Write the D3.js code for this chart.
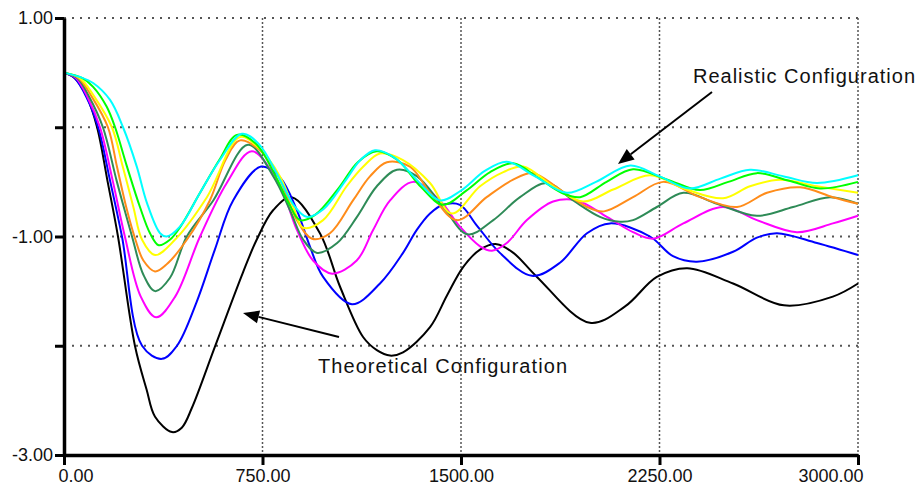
<!DOCTYPE html>
<html>
<head>
<meta charset="utf-8">
<script src="https://cdn.jsdelivr.net/npm/d3@7"></script>
<style>
  body { margin: 0; background: #fff; }
  svg { display: block; }
</style>
</head>
<body>
<div id="chart"></div>
<script>
var width = 920
var height = 488
var margin = {top: 18, right: 62, bottom: 33, left: 64}

// axis ticks
var xTicks = [0, 750, 1500, 2250, 3000]
var yTicks = [1, 0, -1, -2, -3]
var yLabelled = [1, -1, -3]

// curves, [x, y]
var black = [[0,0.5],[40,0.45],[86,0.28],[125,0],[165,-0.5],[204,-1.0],[268,-2.0],[312,-2.4],[344,-2.65],[408,-2.79],[445,-2.75],[483,-2.57],[570,-2.01],[676,-1.33],[728,-1.03],[790,-0.76],[860,-0.64],[967,-0.97],[1043,-1.46],[1130,-1.92],[1182,-2.04],[1232,-2.09],[1281,-2.06],[1383,-1.83],[1447,-1.54],[1508,-1.28],[1572,-1.12],[1635,-1.07],[1698,-1.15],[1787,-1.37],[1987,-1.79],[2120,-1.64],[2240,-1.37],[2355,-1.29],[2528,-1.43],[2720,-1.63],[2905,-1.55],[3000,-1.43]]
var blue = [[0,0.5],[40,0.45],[86,0.27],[129,0],[175,-0.5],[219,-1.0],[295,-2.0],[370,-2.12],[427,-2.0],[501,-1.6],[570,-1.12],[639,-0.67],[745,-0.36],[816,-0.46],[880,-0.76],[929,-1.09],[979,-1.37],[1088,-1.62],[1194,-1.43],[1281,-1.15],[1333,-0.94],[1383,-0.79],[1432,-0.71],[1496,-0.71],[1560,-0.9],[1647,-1.15],[1768,-1.36],[1874,-1.24],[1976,-0.97],[2063,-0.88],[2214,-1.0],[2301,-1.18],[2391,-1.23],[2528,-1.14],[2618,-1.01],[2694,-0.97],[2845,-1.06],[3000,-1.17]]
var magenta = [[0,0.5],[45,0.45],[90,0.27],[136,0],[185,-0.5],[230,-1.0],[290,-1.55],[348,-1.74],[420,-1.55],[514,-1.0],[615,-0.51],[710,-0.22],[816,-0.54],[880,-0.94],[941,-1.22],[1013,-1.34],[1106,-1.22],[1168,-0.94],[1232,-0.67],[1320,-0.5],[1420,-0.67],[1496,-0.91],[1572,-1.09],[1617,-1.13],[1673,-1.06],[1749,-0.85],[1848,-0.68],[1938,-0.67],[2051,-0.82],[2150,-0.96],[2226,-1.02],[2340,-0.88],[2490,-0.73],[2618,-0.85],[2769,-0.96],[2905,-0.88],[3000,-0.81]]
var seaGreen = [[0,0.5],[50,0.45],[95,0.28],[147,0],[200,-0.5],[257,-1.0],[300,-1.35],[344,-1.5],[400,-1.38],[464,-1.0],[564,-0.67],[695,-0.16],[791,-0.45],[854,-0.76],[904,-1.03],[956,-1.15],[1032,-1.06],[1107,-0.82],[1182,-0.54],[1258,-0.39],[1334,-0.45],[1433,-0.73],[1525,-0.98],[1622,-0.85],[1723,-0.64],[1825,-0.51],[1924,-0.67],[2025,-0.82],[2100,-0.865],[2150,-0.85],[2240,-0.73],[2340,-0.6],[2467,-0.7],[2618,-0.81],[2755,-0.73],[2894,-0.64],[3000,-0.7]]
var orange = [[0,0.5],[55,0.45],[105,0.28],[166,0],[200,-0.36],[235,-0.73],[270,-1.03],[300,-1.22],[344,-1.32],[390,-1.25],[464,-1.03],[551,-0.67],[610,-0.3],[665,-0.12],[753,-0.24],[816,-0.48],[880,-0.85],[937,-1.02],[1005,-0.97],[1092,-0.67],[1156,-0.45],[1220,-0.32],[1307,-0.36],[1383,-0.6],[1485,-0.85],[1597,-0.64],[1697,-0.48],[1772,-0.42],[1874,-0.57],[1976,-0.73],[2040,-0.77],[2150,-0.64],[2264,-0.5],[2403,-0.64],[2543,-0.73],[2656,-0.6],[2781,-0.55],[2905,-0.64],[3000,-0.7]]
var yellow = [[0,0.5],[60,0.45],[112,0.29],[181,0],[222,-0.36],[262,-0.73],[295,-1.03],[344,-1.17],[419,-1.03],[540,-0.64],[665,-0.09],[740,-0.2],[816,-0.45],[866,-0.73],[904,-0.92],[979,-0.85],[1068,-0.54],[1131,-0.36],[1194,-0.24],[1281,-0.3],[1383,-0.51],[1465,-0.79],[1572,-0.54],[1660,-0.41],[1735,-0.36],[1848,-0.54],[1961,-0.68],[2075,-0.57],[2214,-0.44],[2352,-0.57],[2490,-0.65],[2592,-0.54],[2705,-0.48],[2845,-0.54],[3000,-0.6]]
var lime = [[0,0.5],[70,0.45],[110,0.37],[161,0.19],[193,0],[238,-0.36],[287,-0.73],[325,-0.97],[358,-1.08],[400,-1.03],[440,-0.91],[514,-0.6],[589,-0.29],[653,-0.07],[725,-0.15],[800,-0.45],[850,-0.7],[892,-0.85],[950,-0.8],[1040,-0.55],[1110,-0.32],[1182,-0.22],[1260,-0.3],[1350,-0.55],[1432,-0.71],[1520,-0.58],[1610,-0.41],[1697,-0.33],[1790,-0.46],[1880,-0.6],[1950,-0.64],[2050,-0.5],[2150,-0.385],[2280,-0.48],[2403,-0.575],[2510,-0.5],[2618,-0.42],[2740,-0.49],[2856,-0.56],[3000,-0.5]]
var cyan = [[0,0.5],[60,0.46],[110,0.405],[174,0.25],[223,0],[275,-0.36],[313,-0.69],[363,-0.97],[388,-1.0],[438,-0.91],[514,-0.6],[589,-0.3],[672,-0.06],[735,-0.15],[810,-0.45],[870,-0.72],[917,-0.82],[980,-0.75],[1060,-0.5],[1120,-0.3],[1175,-0.21],[1250,-0.28],[1340,-0.5],[1420,-0.67],[1500,-0.58],[1590,-0.4],[1673,-0.315],[1780,-0.45],[1900,-0.6],[2010,-0.5],[2140,-0.35],[2250,-0.45],[2365,-0.56],[2480,-0.47],[2592,-0.39],[2720,-0.45],[2845,-0.51],[3000,-0.44]]

var series = [
  {name: "black", color: "#000000", data: black},
  {name: "blue", color: "#0000ff", data: blue},
  {name: "magenta", color: "#ff00ff", data: magenta},
  {name: "seaGreen", color: "#2e8b57", data: seaGreen},
  {name: "orange", color: "#ff8c1a", data: orange},
  {name: "yellow", color: "#ffff00", data: yellow},
  {name: "lime", color: "#00ff00", data: lime},
  {name: "cyan", color: "#00ffff", data: cyan}
]

var svg = d3.select("#chart").append("svg")
  .attr("width", width)
  .attr("height", height)

var x = d3.scaleLinear()
  .domain([0, 3000])
  .range([margin.left, width - margin.right])

var y = d3.scaleLinear()
  .domain([-3, 1])
  .range([height - margin.bottom, margin.top])

// dotted grid
svg.append("g")
  .selectAll("line")
  .data(yTicks.filter(d => d > -3))
  .enter().append("line")
  .attr("x1", x(0)).attr("x2", x(3000))
  .attr("y1", d => y(d)).attr("y2", d => y(d))
  .style("stroke", "#555")
  .style("stroke-width", 2)
  .style("stroke-dasharray", "2,6")

svg.append("g")
  .selectAll("line")
  .data(xTicks.filter(d => d > 0))
  .enter().append("line")
  .attr("x1", d => x(d)).attr("x2", d => x(d))
  .attr("y1", y(1)).attr("y2", y(-3))
  .style("stroke", "#555")
  .style("stroke-width", 1.5)
  .style("stroke-dasharray", "2,2")

// the curves
var line = d3.line()
  .x(d => x(d[0]))
  .y(d => y(d[1]))
  .curve(d3.curveCatmullRom.alpha(0.5))

svg.append("g")
  .selectAll("path")
  .data(series)
  .enter().append("path")
  .attr("d", d => line(d.data))
  .style("fill", "none")
  .style("stroke", d => d.color)
  .style("stroke-width", 2)

// axes
var fmt = d => d3.format(".2f")(d).replace("\u2212", "-")

var xAxis = svg.append("g")
  .attr("transform", "translate(0," + y(-3) + ")")
  .call(d3.axisBottom(x).tickValues(xTicks).tickSize(10).tickSizeOuter(0).tickFormat(fmt))

var yAxis = svg.append("g")
  .attr("transform", "translate(" + x(0) + ",0)")
  .call(d3.axisLeft(y).tickValues(yTicks).tickSize(9).tickSizeOuter(0)
    .tickFormat(d => yLabelled.includes(d) ? fmt(d) : ""))

svg.selectAll(".domain").style("stroke", "#000").style("stroke-width", 3.5)
svg.selectAll(".tick line").style("stroke", "#000").style("stroke-width", 3)
svg.selectAll(".tick text")
  .style("font-family", "'Liberation Sans', Arial, sans-serif")
  .style("font-size", "18px")
  .style("fill", "#111")

xAxis.selectAll(".tick text").attr("y", 14)
xAxis.selectAll(".tick text")
  .filter(d => d == 0).attr("text-anchor", "start").attr("x", -6)
xAxis.selectAll(".tick text")
  .filter(d => d == 3000).attr("text-anchor", "end").attr("x", 5)
yAxis.selectAll(".tick text").attr("x", -11)

// annotations
function arrow(x1, y1, x2, y2) {
  var a = Math.atan2(y2 - y1, x2 - x1)
  var len = 16, half = 6.5
  var bx = x2 - len * Math.cos(a), by = y2 - len * Math.sin(a)
  svg.append("line")
    .attr("x1", x1).attr("y1", y1).attr("x2", bx).attr("y2", by)
    .style("stroke", "#000").style("stroke-width", 2)
  svg.append("polygon")
    .attr("points", [
      [x2, y2],
      [bx + half * Math.sin(a), by - half * Math.cos(a)],
      [bx - half * Math.sin(a), by + half * Math.cos(a)]
    ].map(p => p.join(",")).join(" "))
    .style("fill", "#000")
}

svg.append("text")
  .attr("x", 693).attr("y", 83)
  .attr("textLength", 222)
  .style("font-family", "'Liberation Sans', Arial, sans-serif")
  .style("font-size", "20px")
  .style("fill", "#111")
  .text("Realistic Configuration")

svg.append("text")
  .attr("x", 318).attr("y", 373)
  .attr("textLength", 249)
  .style("font-family", "'Liberation Sans', Arial, sans-serif")
  .style("font-size", "20px")
  .style("fill", "#111")
  .text("Theoretical Configuration")

arrow(712, 92, 618, 164)
arrow(339, 337, 243, 313)
</script>
</body>
</html>
